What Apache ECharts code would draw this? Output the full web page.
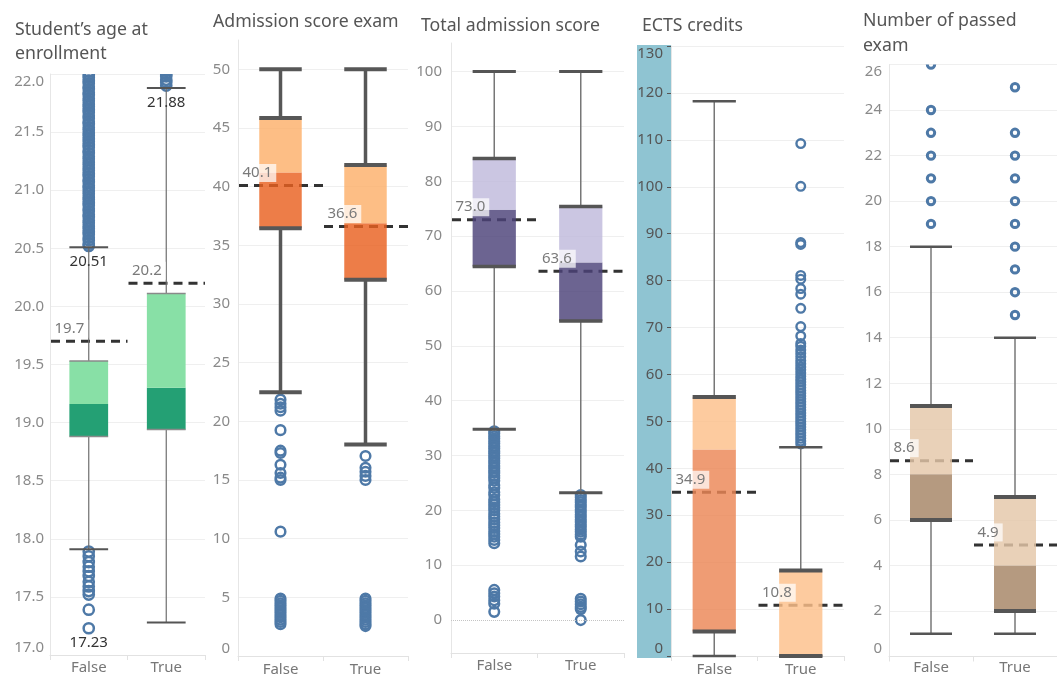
<!DOCTYPE html>
<html>
<head>
<meta charset="utf-8">
<script src="https://cdn.jsdelivr.net/npm/echarts@6/dist/echarts.min.js"></script>
<style>
  html, body { margin: 0; padding: 0; background: #fff; }
  #chart { width: 1057px; height: 677px; }
</style>
</head>
<body>
<div id="chart"></div>
<script>
const categories = ['False', 'True'];

// Box statistics per category: [lower whisker, Q1, median, Q3, upper whisker]
const ageStats = [[17.91, 18.88, 19.16, 19.53, 20.51], [17.28, 18.94, 19.30, 20.11, 21.88]];
const ageMeans = [19.7, 20.2];
const ageOutFalse = [
  20.52, 20.54, 20.57, 20.59, 20.62, 20.64, 20.67, 20.69, 20.72, 20.74, 20.77, 20.79,
  20.82, 20.84, 20.87, 20.89, 20.92, 20.94, 20.97, 20.99, 21.02, 21.04, 21.07, 21.09,
  21.12, 21.14, 21.17, 21.19, 21.22, 21.24, 21.27, 21.29, 21.32, 21.34, 21.37, 21.39,
  21.42, 21.44, 21.47, 21.49, 21.52, 21.54, 21.57, 21.59, 21.62, 21.64, 21.67, 21.69,
  21.72, 21.74, 21.77, 21.79, 21.82, 21.84, 21.87, 21.89, 21.92, 21.94, 21.97, 21.99,
  22.02, 22.05, 22.08,
  17.89, 17.85, 17.80, 17.76, 17.72, 17.68, 17.63, 17.59, 17.55, 17.52, 17.39, 17.23
];
const ageOutTrue = [21.90, 21.93, 21.95, 21.98, 22.00, 22.03, 22.06, 22.09];
const ageTicks = [17, 17.5, 18, 18.5, 19, 19.5, 20, 20.5, 21, 21.5, 22];

const admStats = [[22.48, 36.45, 41.21, 45.86, 50], [18.03, 32.06, 36.88, 41.84, 50]];
const admMeans = [40.1, 36.6];
const admOutFalse = [
  21.85, 21.5, 21.2, 20.9, 19.25, 17.5, 17.3, 16.3, 15.6, 15.2, 15.0, 10.6,
  4.9, 4.7, 4.5, 4.3, 4.1, 3.9, 3.7, 3.5, 3.3, 3.1, 2.9, 2.7
];
const admOutTrue = [
  17.05, 16.05, 15.7, 15.35, 15.0,
  4.9, 4.7, 4.5, 4.3, 4.1, 3.9, 3.7, 3.5, 3.3, 3.1, 2.9, 2.7, 2.55
];
const admTicks = [0, 5, 10, 15, 20, 25, 30, 35, 40, 45, 50];

const totStats = [[34.78, 64.44, 74.78, 84.13, 100], [23.22, 54.53, 65.17, 75.38, 100]];
const totMeans = [73.0, 63.6];
const totOutFalse = [
  34.4, 34.0, 33.5, 33.1, 32.6, 32.2, 31.7, 31.3, 30.8, 30.4, 29.9, 29.5, 29.0, 28.6,
  28.1, 27.7, 27.2, 26.8, 26.3, 25.9, 25.4, 24.6, 24.1, 23.3, 22.8, 22.0, 21.5, 21.0,
  20.5, 20.0, 19.4, 18.9, 18.4, 17.8, 17.3, 16.8, 16.2, 15.7, 15.2, 14.6, 14.0,
  5.5, 4.9, 4.3, 3.6, 3.0, 1.5
];
const totOutTrue = [
  22.8, 22.4, 21.9, 21.5, 21.0, 20.6, 20.1, 19.7, 19.2, 18.8, 18.3, 17.9, 17.4, 17.0,
  16.5, 16.1, 15.6, 15.2, 13.7, 12.5, 11.6, 3.9, 3.4, 2.9, 2.4, 2.0, 0
];
const totTicks = [0, 10, 20, 30, 40, 50, 60, 70, 80, 90, 100];

const ectsStats = [[0, 5.2, 44.0, 55.2, 118.2], [0, 0, 0, 18.2, 44.5]];
const ectsMeans = [34.9, 10.8];
const ectsOutFalse = [];
const ectsOutTrue = [
  109.2, 100.1, 88.1, 87.7, 81.1, 80.3, 78.3, 77.1, 74.1, 70.2, 68.2, 66.6, 66.0,
  65.2, 64.5, 63.8, 63.0, 62.3, 61.6, 61.0, 60.3, 59.6, 59.0, 58.4, 57.8, 57.2, 56.6,
  56.0, 55.4, 54.8, 54.2, 53.6, 53.0, 52.4, 51.8, 51.2, 50.6, 50.0, 49.4, 48.8, 48.2,
  47.6, 47.0, 46.4, 45.8, 45.2
];
const ectsTicks = [0, 10, 20, 30, 40, 50, 60, 70, 80, 90, 100, 110, 120, 130];

const passStats = [[1, 6, 8, 11, 18], [1, 2, 4, 7, 14]];
const passMeans = [8.6, 4.9];
const passOutFalse = [19, 20, 21, 22, 23, 24, 26];
const passOutTrue = [15, 16, 17, 18, 19, 20, 21, 22, 23, 25];
const passTicks = [0, 2, 4, 6, 8, 10, 12, 14, 16, 18, 20, 22, 24, 26];

const FONT = '"Noto Sans", "Open Sans", sans-serif';
const OUTLIER_BLUE = '#4E79A7';

const panels = [
  {
    title: 'Student\u2019s age at\nenrollment', titleLeft: 15, titleTop: 18, titleLH: 24,
    grid: { left: 50, top: 74, width: 155, height: 581 },
    min: 17, max: 22, ticks: ageTicks, digits: 1, labelMargin: 6, labelColor: '#8a8a8a',
    alignMin: 'bottom', alignMax: 'top', xMargin: 5,
    stats: ageStats, means: ageMeans, out: [ageOutFalse, ageOutTrue], ringR: 5.1, ringW: 2.5,
    light: '#88E0A6', dark: '#24A074', opacity: 1,
    whiskerW: 1.2, whiskerC: '#6e6e6e', capW: 2, capC: '#555555', edgeW: 1.5, edgeC: '#8a8a8a'
  },
  {
    title: 'Admission score exam', titleLeft: 213, titleTop: 10, titleLH: 24,
    grid: { left: 238, top: 40, width: 170, height: 617 },
    min: 0, max: 52.5, ticks: admTicks, digits: 0, labelMargin: 8, labelColor: '#8a8a8a',
    alignMin: 'bottom', alignMax: null, xMargin: 6,
    stats: admStats, means: admMeans, out: [admOutFalse, admOutTrue], ringR: 4.8, ringW: 2.5,
    light: '#FCB06A', dark: '#E96020', opacity: 0.82,
    whiskerW: 3.5, whiskerC: '#575757', capW: 4, capC: '#575757', edgeW: 4, edgeC: '#575757'
  },
  {
    title: 'Total admission score', titleLeft: 421, titleTop: 14, titleLH: 24,
    grid: { left: 451, top: 43, width: 173, height: 610 },
    min: -6, max: 105.2, ticks: totTicks, digits: 0, labelMargin: 9, labelColor: '#8a8a8a',
    alignMin: null, alignMax: null, xMargin: 5, zeroLine: true,
    stats: totStats, means: totMeans, out: [totOutFalse, totOutTrue], ringR: 4.8, ringW: 2.5,
    light: '#C0BADC', dark: '#4C4279', opacity: 0.82,
    whiskerW: 1.5, whiskerC: '#777777', capW: 3, capC: '#555555', edgeW: 3.5, edgeC: '#555555'
  },
  {
    title: 'ECTS credits', titleLeft: 642, titleTop: 14, titleLH: 24,
    grid: { left: 671, top: 46, width: 173, height: 612 },
    min: 0, max: 130, ticks: ectsTicks, digits: 0, labelMargin: 8, labelColor: '#555555',
    alignMin: 'bottom', alignMax: 'top', xMargin: 6, showTicks: true,
    stats: ectsStats, means: ectsMeans, out: [ectsOutFalse, ectsOutTrue], ringR: 4.3, ringW: 2.4,
    light: '#FCC08A', dark: '#EC8655', opacity: 0.82,
    whiskerW: 1.5, whiskerC: '#777777', capW: 2.5, capC: '#555555', edgeW: 4, edgeC: '#555555'
  },
  {
    title: 'Number of passed\nexam', titleLeft: 863, titleTop: 8, titleLH: 25,
    grid: { left: 889, top: 64.5, width: 178, height: 592 },
    min: 0, max: 26, ticks: passTicks, digits: 0, labelMargin: 7, labelColor: '#8a8a8a',
    alignMin: 'bottom', alignMax: 'top', xMargin: 4,
    stats: passStats, means: passMeans, out: [passOutFalse, passOutTrue], ringR: 3.7, ringW: 3,
    light: '#E4C7A8', dark: '#A58464', opacity: 0.82,
    whiskerW: 1.5, whiskerC: '#777777', capW: 2.5, capC: '#555555', edgeW: 4, edgeC: '#555555'
  }
];

function hLine(x1, x2, y, w, c) {
  return { type: 'line', shape: { x1: x1, y1: y, x2: x2, y2: y }, style: { stroke: c, lineWidth: w } };
}
function vLine(x, y1, y2, w, c) {
  return { type: 'line', shape: { x1: x, y1: y1, x2: x, y2: y2 }, style: { stroke: c, lineWidth: w } };
}

// Two-tone box: Q1..median dark, median..Q3 light, thick quartile edges, whiskers with caps
function boxSeries(p, i) {
  return {
    type: 'custom', xAxisIndex: i, yAxisIndex: i, z: 4, silent: true,
    data: p.stats.map((s, k) => [k].concat(s)),
    encode: { x: 0, y: [1, 2, 3, 4, 5] },
    renderItem: function (params, api) {
      const k = api.value(0);
      const band = api.size([1, 0])[0];
      const w = band * 0.5;
      const pt = v => api.coord([k, v]);
      const lo = pt(api.value(1)), q1 = pt(api.value(2)), md = pt(api.value(3));
      const q3 = pt(api.value(4)), hi = pt(api.value(5));
      const cx = lo[0], x0 = cx - w / 2, x1 = cx + w / 2;
      const ch = [];
      ch.push(vLine(cx, q3[1], hi[1], p.whiskerW, p.whiskerC));
      ch.push(vLine(cx, q1[1], lo[1], p.whiskerW, p.whiskerC));
      ch.push({ type: 'rect', shape: { x: x0, y: md[1], width: w, height: q1[1] - md[1] },
                style: { fill: p.dark, opacity: p.opacity } });
      ch.push({ type: 'rect', shape: { x: x0, y: q3[1], width: w, height: md[1] - q3[1] },
                style: { fill: p.light, opacity: p.opacity } });
      ch.push(hLine(x0, x1, hi[1], p.capW, p.capC));
      ch.push(hLine(x0, x1, lo[1], p.capW, p.capC));
      ch.push(hLine(x0, x1, q3[1], p.edgeW, p.edgeC));
      ch.push(hLine(x0, x1, q1[1], p.edgeW, p.edgeC));
      return { type: 'group', children: ch };
    }
  };
}

// Dashed mean reference line across each category band
function meanLineSeries(p, i) {
  return {
    type: 'custom', xAxisIndex: i, yAxisIndex: i, z: 3, silent: true,
    data: p.means.map((m, k) => [k, m]),
    encode: { x: 0, y: 1 },
    renderItem: function (params, api) {
      const c = api.coord([api.value(0), api.value(1)]);
      const band = api.size([1, 0])[0];
      return {
        type: 'line',
        shape: { x1: c[0] - band / 2 + 1, y1: c[1], x2: c[0] + band / 2, y2: c[1] },
        style: { stroke: '#333333', lineWidth: 3, lineDash: [9, 6] }
      };
    }
  };
}

// Mean value label sitting above the left end of the dashed line
function meanLabelSeries(p, i) {
  return {
    type: 'custom', xAxisIndex: i, yAxisIndex: i, z: 6, silent: true,
    data: p.means.map((m, k) => [k, m]),
    encode: { x: 0, y: 1 },
    renderItem: function (params, api) {
      const c = api.coord([api.value(0), api.value(1)]);
      const band = api.size([1, 0])[0];
      return {
        type: 'text',
        x: c[0] - band / 2 + 1.5, y: c[1] - 12.5,
        style: {
          text: api.value(1).toFixed(1), fill: '#7a7a7a', font: '15px ' + FONT,
          align: 'left', verticalAlign: 'middle',
          backgroundColor: 'rgba(255,255,255,0.72)', padding: [2, 4, 1, 3]
        }
      };
    }
  };
}

// Hollow outlier rings, clipped to the plot area
function outlierSeries(p, i) {
  const data = [];
  p.out.forEach((arr, k) => arr.forEach(v => data.push([k, v])));
  const s = {
    type: 'custom', xAxisIndex: i, yAxisIndex: i, z: 2, silent: true, clip: true,
    data: data, encode: { x: 0, y: 1 },
    renderItem: function (params, api) {
      const c = api.coord([api.value(0), api.value(1)]);
      return {
        type: 'circle', shape: { cx: c[0], cy: c[1], r: p.ringR },
        style: { fill: 'none', stroke: OUTLIER_BLUE, lineWidth: p.ringW }
      };
    }
  };
  if (p.zeroLine) {
    s.markLine = {
      silent: true, symbol: 'none', label: { show: false },
      lineStyle: { type: 'dotted', color: '#c4c4c4', width: 1 },
      data: [{ yAxis: 0 }]
    };
  }
  return s;
}

// Whisker-end and extreme-outlier annotations for the age panel
const ageNotes = [
  [0, ageStats[0][4]],
  [1, ageStats[1][4]],
  [0, Math.min.apply(null, ageOutFalse)]
];
const ageNoteSeries = {
  type: 'custom', xAxisIndex: 0, yAxisIndex: 0, z: 6, silent: true,
  data: ageNotes, encode: { x: 0, y: 1 },
  renderItem: function (params, api) {
    const c = api.coord([api.value(0), api.value(1)]);
    return {
      type: 'text', x: c[0], y: c[1] + 14.5,
      style: { text: api.value(1).toFixed(2), fill: '#333333', font: '15px ' + FONT,
               align: 'center', verticalAlign: 'middle' }
    };
  }
};

const option = {
  animation: false,
  backgroundColor: '#ffffff',
  title: panels.map(p => ({
    text: p.title, left: p.titleLeft, top: p.titleTop, padding: 0,
    textStyle: { fontFamily: FONT, fontSize: 17.7, fontWeight: 'normal', color: '#555555', lineHeight: p.titleLH }
  })),
  graphic: [{
    type: 'rect', left: 637, top: 45, z: -10, silent: true,
    shape: { width: 34, height: 613 }, style: { fill: '#8FC4D2' }
  }],
  grid: panels.map(p => Object.assign({ containLabel: false }, p.grid)),
  xAxis: panels.map((p, i) => ({
    gridIndex: i, type: 'category', data: categories, boundaryGap: true,
    axisLine: { show: true, onZero: false, lineStyle: { color: '#e2e2e2', width: 1 } },
    axisTick: { show: true, length: 5, lineStyle: { color: '#e2e2e2' } },
    axisLabel: { color: '#777777', fontSize: 15, fontFamily: FONT, margin: p.xMargin },
    splitLine: { show: false }
  })),
  yAxis: panels.map((p, i) => {
    const label = {
      customValues: p.ticks,
      formatter: v => Number(v).toFixed(p.digits),
      color: p.labelColor, fontSize: 15, fontFamily: FONT, margin: p.labelMargin
    };
    if (p.alignMin) label.verticalAlignMinLabel = p.alignMin;
    if (p.alignMax) label.verticalAlignMaxLabel = p.alignMax;
    return {
      gridIndex: i, type: 'value', min: p.min, max: p.max,
      axisLine: { show: true, onZero: false, lineStyle: { color: '#e6e6e6', width: 1 } },
      axisTick: {
        show: !!p.showTicks, length: 4, lineStyle: { color: '#555555' },
        customValues: p.zeroLine ? p.ticks.filter(v => v !== 0) : p.ticks
      },
      axisLabel: label,
      splitLine: { show: true, lineStyle: { color: '#efefef', width: 1 } }
    };
  }),
  series: [].concat(
    panels.map(outlierSeries),
    panels.map(meanLineSeries),
    panels.map(boxSeries),
    panels.map(meanLabelSeries),
    [ageNoteSeries]
  )
};

const chart = echarts.init(document.getElementById('chart'), null, { renderer: 'canvas' });
chart.setOption(option);
</script>
</body>
</html>
